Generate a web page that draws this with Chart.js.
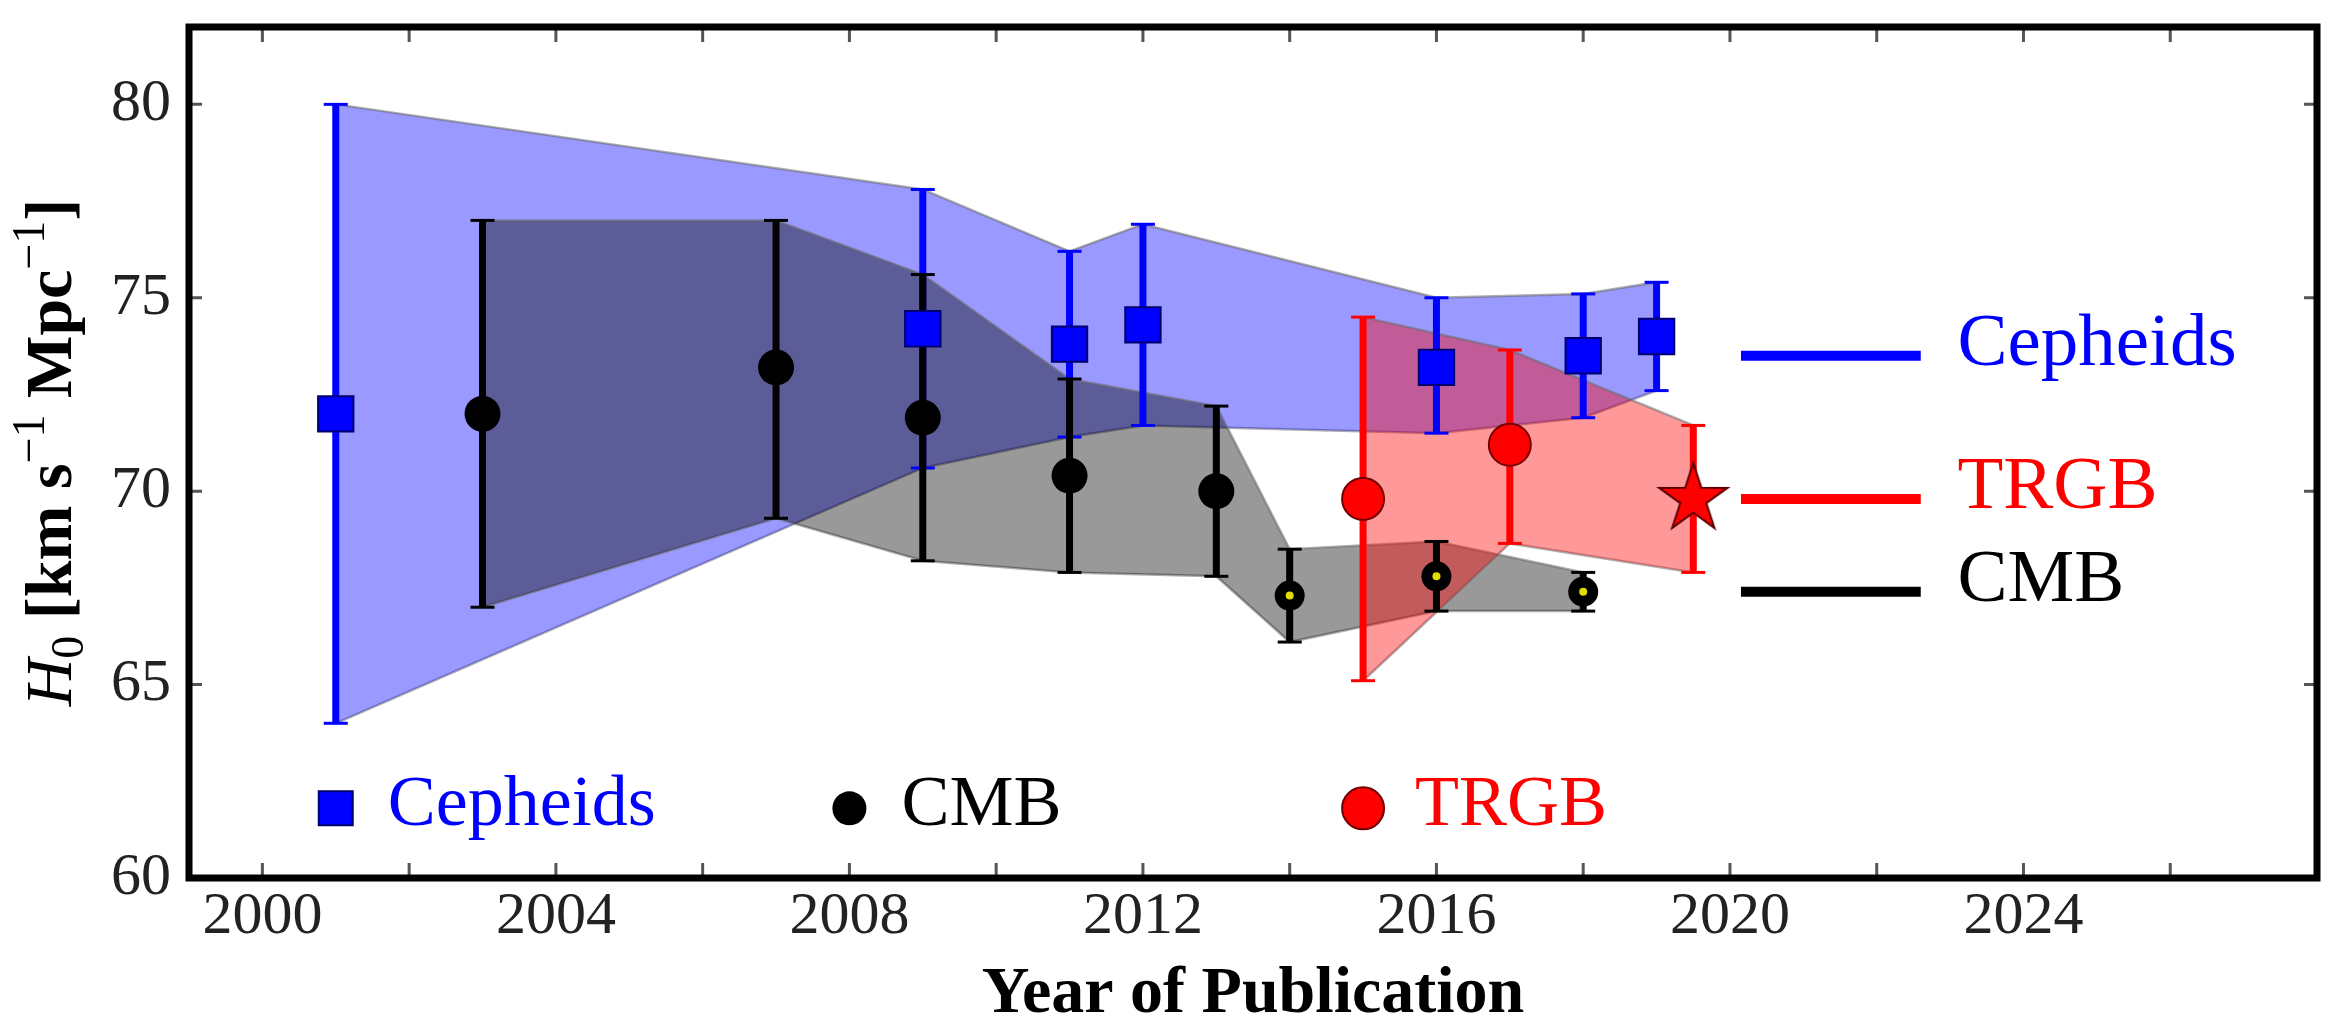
<!DOCTYPE html>
<html>
<head>
<meta charset="utf-8">
<title>H0 by year of publication</title>
<script src="https://cdn.jsdelivr.net/npm/chart.js@4.4.1/dist/chart.umd.min.js"></script>
<style>
  html, body { margin: 0; padding: 0; background: #fff; }
  #wrap { position: relative; width: 2344px; height: 1024px; }
</style>
</head>
<body>
<div id="wrap"><canvas id="chart"></canvas></div>
<script>
// --- values ---
const cephYears = [2001, 2009, 2011, 2012, 2016, 2018, 2019];
const cephH0    = [72.0, 74.2, 73.8, 74.3, 73.2, 73.5, 74.0];
const cephLow   = [64.0, 70.6, 71.4, 71.7, 71.5, 71.9, 72.6];
const cephHigh  = [80.0, 77.8, 76.2, 76.9, 75.0, 75.1, 75.4];

const cmbYears  = [2003, 2007, 2009, 2011, 2013, 2014, 2016, 2018];
const cmbH0     = [72.0, 73.2, 71.9, 70.4, 70.0, 67.3, 67.8, 67.4];
const cmbLow    = [67.0, 69.3, 68.2, 67.9, 67.8, 66.1, 66.9, 66.9];
const cmbHigh   = [77.0, 77.0, 75.6, 72.9, 72.2, 68.5, 68.7, 67.9];
const cmbPlanck = [false, false, false, false, false, true, true, true]; // small dotted markers

const trgbYears = [2015, 2017, 2019.5];
const trgbH0    = [69.8, 71.2, 69.8];
const trgbLow   = [65.1, 68.65, 67.9];
const trgbHigh  = [74.5, 73.65, 71.7];
const trgbStar  = [false, false, true];

const BLUE = '#0000ff', RED = '#ff0000', BLACK = '#000000';
const SERIF = '"Liberation Serif", "DejaVu Serif", serif';

// legends drawn inside the axes
const markerLegend = [
  { label: 'Cepheids', color: BLUE,  year: 2001, style: 'rect' },
  { label: 'CMB',      color: BLACK, year: 2008, style: 'circle' },
  { label: 'TRGB',     color: RED,   year: 2015, style: 'bigcircle' }
];
const markerLegendH0 = 61.8;
const lineLegend = [
  { label: 'Cepheids', color: BLUE,  h0: 73.5 },
  { label: 'TRGB',     color: RED,   h0: 69.8 },
  { label: 'CMB',      color: BLACK, h0: 67.4 }
];
const lineLegendFrom = 2020.15, lineLegendTo = 2022.6, lineLegendText = 2023.1;

function toPoints(xs, ys) {
  return xs.map((x, i) => ({ x, y: ys[i] }));
}

// each error bar is a two point segment, broken from the next one by a gap
function toBars(xs, lo, hi) {
  const pts = [];
  xs.forEach((x, i) => {
    pts.push({ x, y: lo[i] }, { x, y: hi[i] }, { x, y: null });
  });
  return pts;
}

function makeStar(R) {
  const c = document.createElement('canvas');
  const s = Math.ceil(2 * R + 6);
  c.width = c.height = s;
  const g = c.getContext('2d');
  g.translate(s / 2, s / 2);
  g.beginPath();
  for (let k = 0; k < 10; k++) {
    const ang = -Math.PI / 2 + k * Math.PI / 5;
    const rad = k % 2 === 0 ? R : R * 0.382;
    g.lineTo(rad * Math.cos(ang), rad * Math.sin(ang));
  }
  g.closePath();
  g.fillStyle = RED;
  g.fill();
  g.lineWidth = 2;
  g.strokeStyle = '#5a0000';
  g.stroke();
  return c;
}
const starImg = makeStar(36);

const bandEdge = { borderColor: 'rgba(105,105,105,0.55)', borderWidth: 2.5, pointRadius: 0, tension: 0 };
const barStyle = { borderWidth: 7, borderCapStyle: 'butt', pointStyle: 'line', pointRadius: 12, pointBorderWidth: 3, spanGaps: false, fill: false };

const decorations = {
  id: 'decorations',
  afterDraw(chart) {
    const { ctx, chartArea: a, scales: { x, y } } = chart;
    ctx.save();

    // inward ticks on all four sides
    ctx.strokeStyle = '#555';
    ctx.lineWidth = 3;
    ctx.beginPath();
    x.ticks.forEach(t => {
      const px = x.getPixelForValue(t.value);
      ctx.moveTo(px, a.bottom); ctx.lineTo(px, a.bottom - 15);
      ctx.moveTo(px, a.top); ctx.lineTo(px, a.top + 15);
    });
    y.ticks.forEach(t => {
      const py = y.getPixelForValue(t.value);
      ctx.moveTo(a.left, py); ctx.lineTo(a.left + 13, py);
      ctx.moveTo(a.right, py); ctx.lineTo(a.right - 13, py);
    });
    ctx.stroke();

    // frame
    ctx.strokeStyle = '#000';
    ctx.lineWidth = 7;
    ctx.strokeRect(a.left, a.top, a.right - a.left, a.bottom - a.top);

    // marker legend along the bottom
    const ly = y.getPixelForValue(markerLegendH0);
    ctx.font = '72px ' + SERIF;
    ctx.textBaseline = 'alphabetic';
    ctx.textAlign = 'left';
    markerLegend.forEach(item => {
      const lx = x.getPixelForValue(item.year);
      ctx.fillStyle = item.color;
      ctx.beginPath();
      if (item.style === 'rect') {
        ctx.rect(lx - 17, ly - 17, 34, 34);
        ctx.fill();
        ctx.lineWidth = 2; ctx.strokeStyle = '#000070'; ctx.stroke();
      } else if (item.style === 'circle') {
        ctx.arc(lx, ly, 17, 0, Math.PI * 2);
        ctx.fill();
      } else {
        ctx.arc(lx, ly, 21, 0, Math.PI * 2);
        ctx.fill();
        ctx.lineWidth = 2; ctx.strokeStyle = '#700000'; ctx.stroke();
      }
      ctx.fillStyle = item.color;
      ctx.fillText(item.label, lx + 52, ly + 17);
    });

    // line legend on the right
    const x0 = x.getPixelForValue(lineLegendFrom);
    const x1 = x.getPixelForValue(lineLegendTo);
    const xt = x.getPixelForValue(lineLegendText);
    ctx.font = '75px ' + SERIF;
    ctx.lineWidth = 10;
    ctx.lineCap = 'butt';
    lineLegend.forEach(item => {
      const py = y.getPixelForValue(item.h0);
      ctx.strokeStyle = item.color;
      ctx.beginPath(); ctx.moveTo(x0, py); ctx.lineTo(x1, py); ctx.stroke();
      ctx.fillStyle = item.color;
      ctx.fillText(item.label, xt, py + 9);
    });

    // axis titles
    ctx.fillStyle = '#000';
    ctx.font = 'bold 66px ' + SERIF;
    ctx.textAlign = 'center';
    ctx.fillText('Year of Publication', (a.left + a.right) / 2, 1012);

    const runs = [
      { t: 'H', f: 'italic 66px ' + SERIF, dy: 0 },
      { t: '0', f: '46px ' + SERIF, dy: 12 },
      { t: ' [km s', f: 'bold 66px ' + SERIF, dy: 0 },
      { t: '\u22121', f: '46px ' + SERIF, dy: -27 },
      { t: ' Mpc', f: 'bold 66px ' + SERIF, dy: 0 },
      { t: '\u22121', f: '46px ' + SERIF, dy: -27 },
      { t: ']', f: 'bold 66px ' + SERIF, dy: 0 }
    ];
    ctx.textAlign = 'left';
    let total = 0;
    runs.forEach(r => { ctx.font = r.f; r.w = ctx.measureText(r.t).width; total += r.w; });
    ctx.translate(71, (a.top + a.bottom) / 2);
    ctx.rotate(-Math.PI / 2);
    let cx = -total / 2;
    runs.forEach(r => { ctx.font = r.f; ctx.fillText(r.t, cx, r.dy); cx += r.w; });

    ctx.restore();
  }
};

new Chart(document.getElementById('chart'), {
  type: 'line',
  data: {
    datasets: [
      // shaded ranges
      { ...bandEdge, data: toPoints(cephYears, cephHigh), fill: '+1', backgroundColor: 'rgba(0,0,255,0.4)', order: 100 },
      { ...bandEdge, data: toPoints(cephYears, cephLow), fill: false, order: 100 },
      { ...bandEdge, data: toPoints(cmbYears, cmbHigh), fill: '+1', backgroundColor: 'rgba(0,0,0,0.4)', order: 90 },
      { ...bandEdge, data: toPoints(cmbYears, cmbLow), fill: false, order: 90 },
      { ...bandEdge, data: toPoints(trgbYears, trgbHigh), fill: '+1', backgroundColor: 'rgba(255,0,0,0.4)', order: 80 },
      { ...bandEdge, data: toPoints(trgbYears, trgbLow), fill: false, order: 80 },
      // error bars
      { ...barStyle, data: toBars(cephYears, cephLow, cephHigh), borderColor: BLUE, pointBorderColor: BLUE, order: 70 },
      { ...barStyle, data: toBars(cmbYears, cmbLow, cmbHigh), borderColor: BLACK, pointBorderColor: BLACK, order: 60 },
      { ...barStyle, data: toBars(trgbYears, trgbLow, trgbHigh), borderColor: RED, pointBorderColor: RED, order: 50 },
      // markers
      { data: toPoints(cmbYears, cmbH0), showLine: false, pointStyle: 'circle',
        pointRadius: c => cmbPlanck[c.dataIndex] ? 15 : 18,
        pointBackgroundColor: BLACK, pointBorderColor: BLACK, pointBorderWidth: 0, order: 40 },
      { data: toPoints(cmbYears, cmbH0), showLine: false, pointStyle: 'circle',
        pointRadius: c => cmbPlanck[c.dataIndex] ? 4 : 0,
        pointBackgroundColor: '#dede00', pointBorderWidth: 0, order: 39 },
      { data: toPoints(cephYears, cephH0), showLine: false, pointStyle: 'rect', pointRadius: 25,
        pointBackgroundColor: BLUE, pointBorderColor: '#000070', pointBorderWidth: 2, order: 30 },
      { data: toPoints(trgbYears, trgbH0), showLine: false,
        pointStyle: c => trgbStar[c.dataIndex] ? starImg : 'circle',
        pointRadius: 21, pointBackgroundColor: RED, pointBorderColor: '#700000', pointBorderWidth: 2, order: 20 }
    ]
  },
  options: {
    responsive: true,
    maintainAspectRatio: false,
    animation: false,
    events: [],
    layout: { padding: { top: 12, right: 14, left: 0, bottom: 0 } },
    plugins: { legend: { display: false }, tooltip: { enabled: false } },
    scales: {
      x: {
        type: 'linear', min: 1999, max: 2028,
        // fixed axis box so the plot area lands where the original has it
        afterFit: s => { s.height = 146; s.paddingLeft = 0; s.paddingRight = 0; },
        grid: { drawOnChartArea: false, drawTicks: false, display: true, color: 'rgba(0,0,0,0)' },
        border: { display: false },
        ticks: {
          stepSize: 2, includeBounds: false, padding: 3, color: '#222',
          font: { family: SERIF, size: 60 },
          maxRotation: 0, autoSkip: false,
          callback: v => (v % 4 === 0 && v < 2028) ? String(v) : ''
        }
      },
      y: {
        min: 60, max: 82,
        afterFit: s => { s.width = 189; s.paddingTop = 0; s.paddingBottom = 0; },
        grid: { drawOnChartArea: false, drawTicks: false, display: true, color: 'rgba(0,0,0,0)' },
        border: { display: false },
        ticks: {
          stepSize: 5, includeBounds: false, padding: 18, color: '#222',
          font: { family: SERIF, size: 60 }
        }
      }
    }
  },
  plugins: [decorations]
});
</script>
</body>
</html>
